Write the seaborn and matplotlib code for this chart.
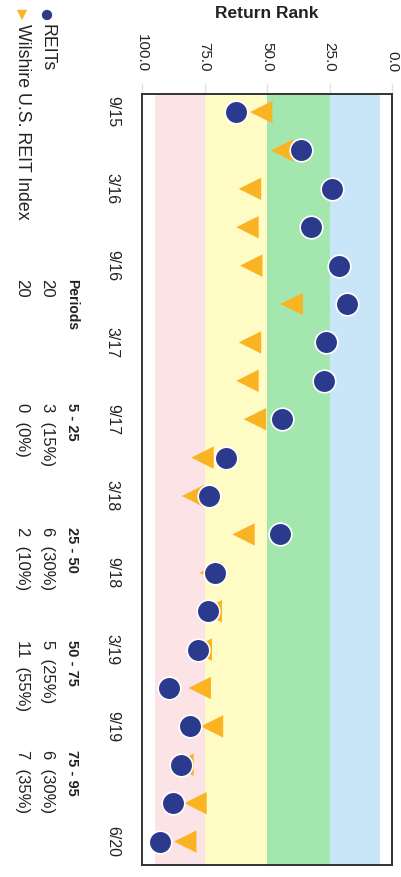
import numpy as np
import pandas as pd
import matplotlib
matplotlib.use('Agg')
import matplotlib.pyplot as plt
import seaborn as sns

# quarterly periods, 9/15 .. 6/20
periods = ['9/15', '12/15', '3/16', '6/16', '9/16', '12/16', '3/17', '6/17', '9/17', '12/17',
           '3/18', '6/18', '9/18', '12/18', '3/19', '6/19', '9/19', '12/19', '3/20', '6/20']
reits_rank = [62.3, 36.4, 24.2, 32.4, 21.1, 18.0, 26.4, 27.4, 44.1, 66.3,
              73.2, 45.0, 70.9, 73.8, 77.6, 89.1, 80.9, 84.6, 87.8, 92.8]
index_rank = [52.3, 43.9, 56.8, 57.8, 56.3, 40.1, 56.8, 57.8, 54.8, 75.8,
              79.6, 59.4, 72.6, 72.5, 76.5, 76.9, 72.0, 83.8, 78.6, 82.7]
shown_periods = ['9/15', '3/16', '9/16', '3/17', '9/17', '3/18', '9/18', '3/19', '9/19', '6/20']

rank_ticks = [0, 25, 50, 75, 100]
band_edges = [(5, 25), (25, 50), (50, 75), (75, 95)]
band_labels = ['5 - 25', '25 - 50', '50 - 75', '75 - 95']
band_colors = ['#c8e6f7', '#a4e7ae', '#fefbc4', '#fbe3e6']

series_names = ['REITs', 'Wilshire U.S. REIT Index']
n_periods = [20, 20]
reits_counts = [3, 6, 5, 6]
index_counts = [0, 2, 11, 7]

navy = '#2c3a8e'
gold = '#f9b323'

df = pd.DataFrame({'period': periods, 'REITs': reits_rank, 'Index': index_rank})
df['pos'] = np.arange(len(df))

sns.set_theme(style='white')
plt.rcParams['font.family'] = ['Liberation Sans', 'DejaVu Sans']

fig = plt.figure(figsize=(4.01, 8.77), dpi=100)
ax = fig.add_axes([142 / 401, 1 - 865 / 877, 250 / 401, 771 / 877])

for (lo, hi), c in zip(band_edges, band_colors):
    ax.axvspan(lo, hi, color=c, lw=0, zorder=0)

sns.scatterplot(data=df, x='Index', y='pos', marker='<', s=260, color=gold,
                edgecolor='none', ax=ax, zorder=3, legend=False)
sns.scatterplot(data=df, x='REITs', y='pos', marker='o', s=265, color=navy,
                edgecolor='white', linewidth=1.2, ax=ax, zorder=4, legend=False)

ax.set_xlim(100, 0)
ax.set_ylim(19.61, -0.47)
ax.xaxis.tick_top()
ax.set_xticks(rank_ticks)
ax.set_xticklabels([f'{v:.1f}' for v in rank_ticks], rotation=-90, fontsize=11, color='#222222')
ax.set_yticks([periods.index(p) for p in shown_periods])
ax.set_yticklabels(shown_periods, rotation=-90, va='center', fontsize=11.5, color='#222222')
ax.tick_params(axis='both', length=8, width=1, color='#e2e2e2', pad=8)
ax.set_xlabel('')
ax.set_ylabel('')
for sp in ax.spines.values():
    sp.set_color('#333333')
    sp.set_linewidth(1.4)

fig.text(267 / 401, 1 - 13 / 877, 'Return Rank', ha='center', va='center',
         fontweight='bold', fontsize=12.5, color='#222222')

# legend + summary table, drawn in pixel units of the left strip
iax = fig.add_axes([0, 0, 140 / 401, 1])
iax.set_xlim(0, 140)
iax.set_ylim(877, 0)
iax.axis('off')

row_x = [47, 22]
header_x = 72
col_y = [279, 403, 527, 640, 750]

iax.scatter([row_x[0]], [15], marker='o', s=55, color=navy, edgecolor='none')
iax.scatter([row_x[1]], [15], marker='v', s=55, color=gold, edgecolor='none')
for name, x in zip(series_names, row_x):
    iax.text(x, 24, name, rotation=-90, ha='center', va='top', fontsize=12.8, color='#222222')

iax.text(header_x, col_y[0], 'Periods', rotation=-90, ha='center', va='top',
         fontsize=10, fontweight='bold', color='#222222')
for lab, y in zip(band_labels, col_y[1:]):
    iax.text(header_x, y, lab, rotation=-90, ha='center', va='top',
             fontsize=10.5, fontweight='bold', color='#222222')

for x, n, counts in zip(row_x, n_periods, [reits_counts, index_counts]):
    iax.text(x, col_y[0], str(n), rotation=-90, ha='center', va='top', fontsize=12, color='#222222')
    for c, y in zip(counts, col_y[1:]):
        iax.text(x, y, f'{c}  ({c * 100 // n}%)', rotation=-90, ha='center', va='top',
                 fontsize=12, color='#222222')

fig.savefig('out.png', dpi=100)
